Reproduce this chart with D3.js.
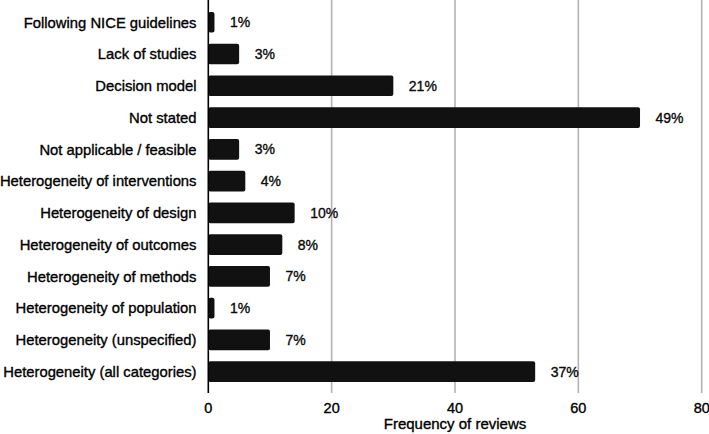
<!DOCTYPE html>
<html>
<head>
<meta charset="utf-8">
<script src="https://cdn.jsdelivr.net/npm/d3@7"></script>
<style>
  body { margin: 0; background: #fff; }
  svg { display: block; font-family: "Liberation Sans", Arial, Helvetica, sans-serif; }
  svg text { stroke: #000; stroke-width: 0.35px; }
</style>
</head>
<body>
<svg id="chart" width="709" height="434"></svg>
<script>
const categories = [
  "Following NICE guidelines",
  "Lack of studies",
  "Decision model",
  "Not stated",
  "Not applicable / feasible",
  "Heterogeneity of interventions",
  "Heterogeneity of design",
  "Heterogeneity of outcomes",
  "Heterogeneity of methods",
  "Heterogeneity of population",
  "Heterogeneity (unspecified)",
  "Heterogeneity (all categories)"
];
const values = [1, 5, 30, 70, 5, 6, 14, 12, 10, 1, 10, 53];
const percentLabels = ["1%", "3%", "21%", "49%", "3%", "4%", "10%", "8%", "7%", "1%", "7%", "37%"];
const xTicks = [0, 20, 40, 60, 80];
const xTitle = "Frequency of reviews";

const svg = d3.select("#chart");
const plotLeft = 208.3, plotRight = 701.7, plotTop = 0, plotBottom = 393;

const x = d3.scaleLinear().domain([0, 80]).range([plotLeft, plotRight]);
const y = d3.scaleBand().domain(categories).range([6.4, 387.5])
  .paddingInner(0.35).paddingOuter(0.175);

// gridlines
svg.append("g").selectAll("line").data(xTicks.filter(d => d > 0)).join("line")
  .attr("x1", d => x(d)).attr("x2", d => x(d))
  .attr("y1", plotTop).attr("y2", plotBottom)
  .attr("stroke", "#b3b3b3").attr("stroke-width", 1.6);

// bars
svg.append("g").selectAll("rect").data(categories).join("rect")
  .attr("x", x(0))
  .attr("y", d => y(d))
  .attr("width", (d, i) => x(values[i]) - x(0))
  .attr("height", y.bandwidth())
  .attr("rx", 2).attr("ry", 2)
  .attr("fill", "#111111");

// y axis line
svg.append("line")
  .attr("x1", x(0)).attr("x2", x(0))
  .attr("y1", plotTop).attr("y2", plotBottom)
  .attr("stroke", "#000").attr("stroke-width", 1.6);

// category labels
svg.append("g").selectAll("text").data(categories).join("text")
  .attr("x", 196.5)
  .attr("y", d => y(d) + y.bandwidth() / 2)
  .attr("dy", "0.36em")
  .attr("text-anchor", "end")
  .attr("font-size", "14.8px")
  .attr("fill", "#000")
  .text(d => d);

// value labels
svg.append("g").selectAll("text").data(categories).join("text")
  .attr("x", (d, i) => x(values[i]) + 15.5)
  .attr("y", d => y(d) + y.bandwidth() / 2)
  .attr("dy", "0.36em")
  .attr("font-size", "14px")
  .attr("fill", "#111")
  .attr("stroke", "#111")
  .text((d, i) => percentLabels[i]);

// x tick labels
svg.append("g").selectAll("text").data(xTicks).join("text")
  .attr("x", d => x(d))
  .attr("y", 412.5)
  .attr("text-anchor", "middle")
  .attr("font-size", "14.5px")
  .attr("fill", "#000")
  .text(d => d);

// x title
svg.append("text")
  .attr("x", (plotLeft + plotRight) / 2)
  .attr("y", 428.5)
  .attr("text-anchor", "middle")
  .attr("font-size", "15px")
  .attr("fill", "#000")
  .text(xTitle);
</script>
</body>
</html>
